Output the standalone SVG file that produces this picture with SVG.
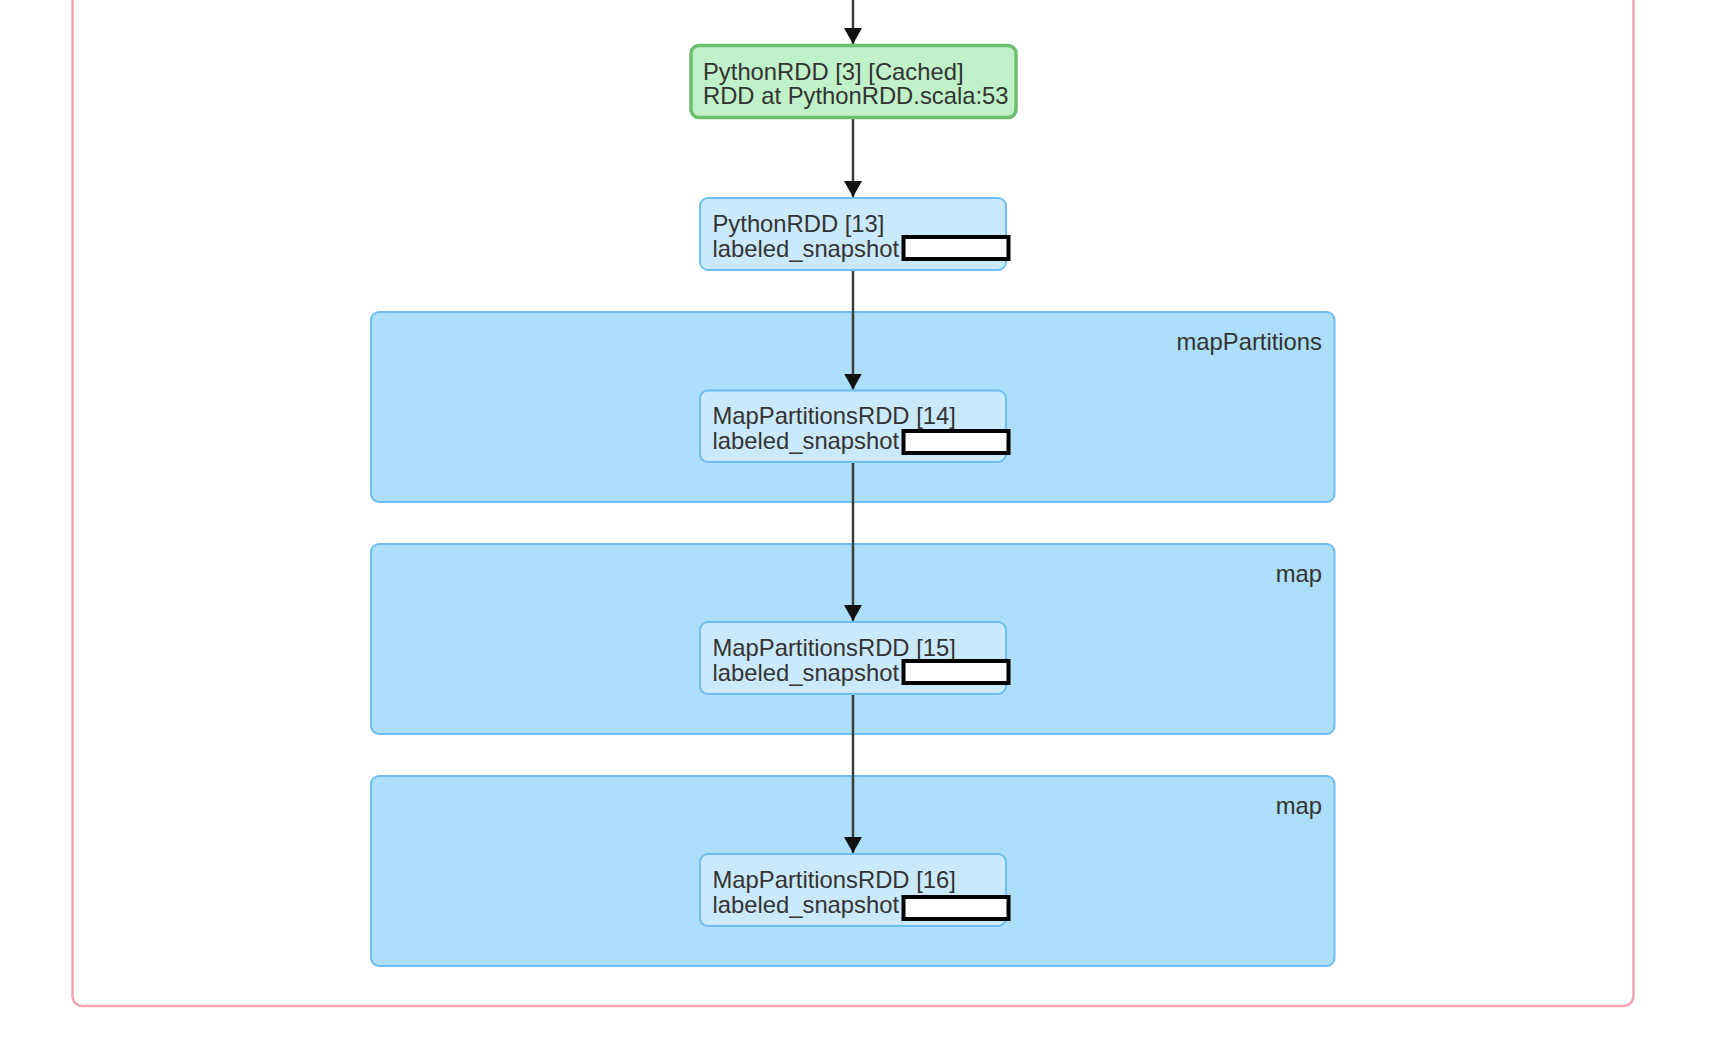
<svg xmlns="http://www.w3.org/2000/svg" width="1722" height="1054" viewBox="0 0 1722 1054">
  <style>
    .stage { fill: #ffffff; stroke: #f3a6b2; stroke-width: 2.5; }
    .cluster { fill: #addefa; stroke: #6cbef3; stroke-width: 2; }
    .node { fill: #cbe9fc; stroke: #6cbef3; stroke-width: 2; }
    .cached { fill: #c0f1c8; stroke: #6cbf6e; stroke-width: 3.5; }
    .label { font-family: "Liberation Sans", Arial, sans-serif; font-size: 23.8px; fill: #333333; }
    .clabel { font-family: "Liberation Sans", Arial, sans-serif; font-size: 23.8px; fill: #333333; text-anchor: end; }
    .mask { fill: #ffffff; stroke: #000000; stroke-width: 4; }
    .edge { fill: none; stroke: #3d3d3d; stroke-width: 2.5; }
  </style>
  <defs>
    <marker id="arrow" viewBox="0 0 16 18" refX="16" refY="9" markerWidth="16" markerHeight="18" markerUnits="userSpaceOnUse" orient="auto">
      <path d="M0,0 L16,9 L0,18 z" fill="#111111"/>
    </marker>
  </defs>

  <!-- stage boundary -->
  <rect class="stage" x="72.5" y="-30" width="1561" height="1036" rx="10"/>

  <!-- operation scopes -->
  <g id="cluster-mapPartitions">
    <rect class="cluster" x="371" y="312" width="963.5" height="190" rx="8"/>
    <text class="clabel" x="1322" y="349.5">mapPartitions</text>
  </g>
  <g id="cluster-map-1">
    <rect class="cluster" x="371" y="544" width="963.5" height="190" rx="8"/>
    <text class="clabel" x="1322" y="581.5">map</text>
  </g>
  <g id="cluster-map-2">
    <rect class="cluster" x="371" y="776" width="963.5" height="190" rx="8"/>
    <text class="clabel" x="1322" y="813.5">map</text>
  </g>

  <!-- connectors -->
  <g id="edges">
    <line class="edge" x1="853" y1="-5" x2="853" y2="44" marker-end="url(#arrow)"/>
    <line class="edge" x1="853" y1="118" x2="853" y2="197" marker-end="url(#arrow)"/>
    <line class="edge" x1="853" y1="270" x2="853" y2="389.5" marker-end="url(#arrow)"/>
    <line class="edge" x1="853" y1="462" x2="853" y2="621" marker-end="url(#arrow)"/>
    <line class="edge" x1="853" y1="694" x2="853" y2="853" marker-end="url(#arrow)"/>
  </g>

  <!-- RDD nodes -->
  <g id="node-rdd-3">
    <rect class="cached" x="691" y="45.5" width="325" height="72" rx="8"/>
    <text class="label" x="703" y="79.5">PythonRDD [3] [Cached]</text>
    <text class="label" x="703" y="104">RDD at PythonRDD.scala:53</text>
  </g>
  <g id="node-rdd-13">
    <rect class="node" x="700" y="198" width="306" height="72" rx="8"/>
    <text class="label" x="712.5" y="232">PythonRDD [13]</text>
    <text class="label" x="712.5" y="256.5">labeled_snapshot</text>
    <rect class="mask" x="903.5" y="237" width="105" height="22"/>
  </g>
  <g id="node-rdd-14">
    <rect class="node" x="700" y="390.5" width="306" height="71.5" rx="8"/>
    <text class="label" x="712.5" y="424">MapPartitionsRDD [14]</text>
    <text class="label" x="712.5" y="448.5">labeled_snapshot</text>
    <rect class="mask" x="903.5" y="431" width="105" height="22"/>
  </g>
  <g id="node-rdd-15">
    <rect class="node" x="700" y="622" width="306" height="72" rx="8"/>
    <text class="label" x="712.5" y="656">MapPartitionsRDD [15]</text>
    <text class="label" x="712.5" y="680.5">labeled_snapshot</text>
    <rect class="mask" x="903.5" y="661" width="105" height="22"/>
  </g>
  <g id="node-rdd-16">
    <rect class="node" x="700" y="854" width="306" height="72" rx="8"/>
    <text class="label" x="712.5" y="888">MapPartitionsRDD [16]</text>
    <text class="label" x="712.5" y="912.5">labeled_snapshot</text>
    <rect class="mask" x="903.5" y="897" width="105" height="22"/>
  </g>
</svg>
